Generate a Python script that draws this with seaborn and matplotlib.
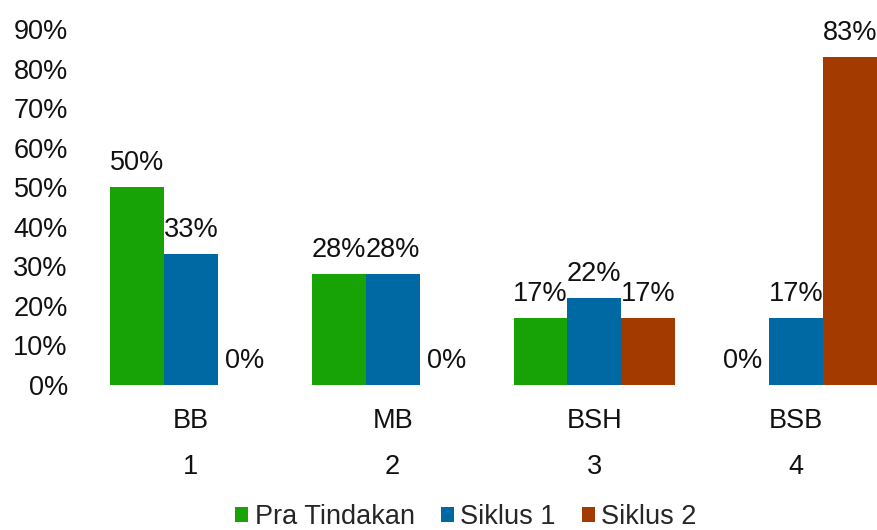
import matplotlib
matplotlib.use("Agg")
import matplotlib.pyplot as plt
import matplotlib.ticker as mticker
import pandas as pd
import seaborn as sns

categories = ["BB", "MB", "BSH", "BSB"]
group_numbers = ["1", "2", "3", "4"]
series_names = ["Pra Tindakan", "Siklus 1", "Siklus 2"]
pra_tindakan = [50, 28, 17, 0]
siklus_1 = [33, 28, 22, 17]
siklus_2 = [0, 0, 17, 83]
colors = ["#17a305", "#0068a3", "#a33b00"]

rows = []
for name, vals in zip(series_names, [pra_tindakan, siklus_1, siklus_2]):
    for cat, v in zip(categories, vals):
        rows.append({"kategori": cat, "seri": name, "nilai": v})
df = pd.DataFrame(rows)

FS = 19.5

sns.set_theme(style="white")
plt.rcParams["font.family"] = ["Liberation Sans", "DejaVu Sans"]
plt.rcParams["font.size"] = FS

fig = plt.figure(figsize=(8.78, 5.30), dpi=100)
ax = fig.add_axes([90 / 878, 1 - 385 / 530, 1 - 90 / 878, (385 - 29) / 530])

sns.barplot(data=df, x="kategori", y="nilai", hue="seri", order=categories,
            hue_order=series_names, palette=colors, width=0.8,
            linewidth=0, saturation=1, ax=ax, legend=True)

for cont in ax.containers:
    lbls = ax.bar_label(cont, fmt="%d%%", padding=8, fontsize=FS, color="#111111")
    for t in lbls:
        t.set_clip_on(False)

ax.set_ylim(0, 90)
ax.set_xlim(-0.5, 3.406)
ax.yaxis.set_major_locator(mticker.MultipleLocator(10))
ax.yaxis.set_major_formatter(mticker.FormatStrFormatter("%d%%"))
ax.set_xticks(range(len(categories)))
ax.set_xticklabels([f"{c}\n{n}" for c, n in zip(categories, group_numbers)],
                   linespacing=2.0)
ax.tick_params(axis="both", length=0, labelsize=FS, colors="#111111")
ax.tick_params(axis="y", pad=16)
ax.tick_params(axis="x", pad=16.5)
ax.set_xlabel("")
ax.set_ylabel("")
for s in ax.spines.values():
    s.set_visible(False)

handles, labels = ax.get_legend_handles_labels()
ax.get_legend().remove()
fig.legend(handles, labels, loc="lower center", bbox_to_anchor=(466 / 878, -0.046),
           ncol=3, frameon=False, fontsize=FS, handlelength=0.48, handleheight=0.48,
           handletextpad=0.25, columnspacing=0.95)

fig.savefig("out.png", dpi=100)
